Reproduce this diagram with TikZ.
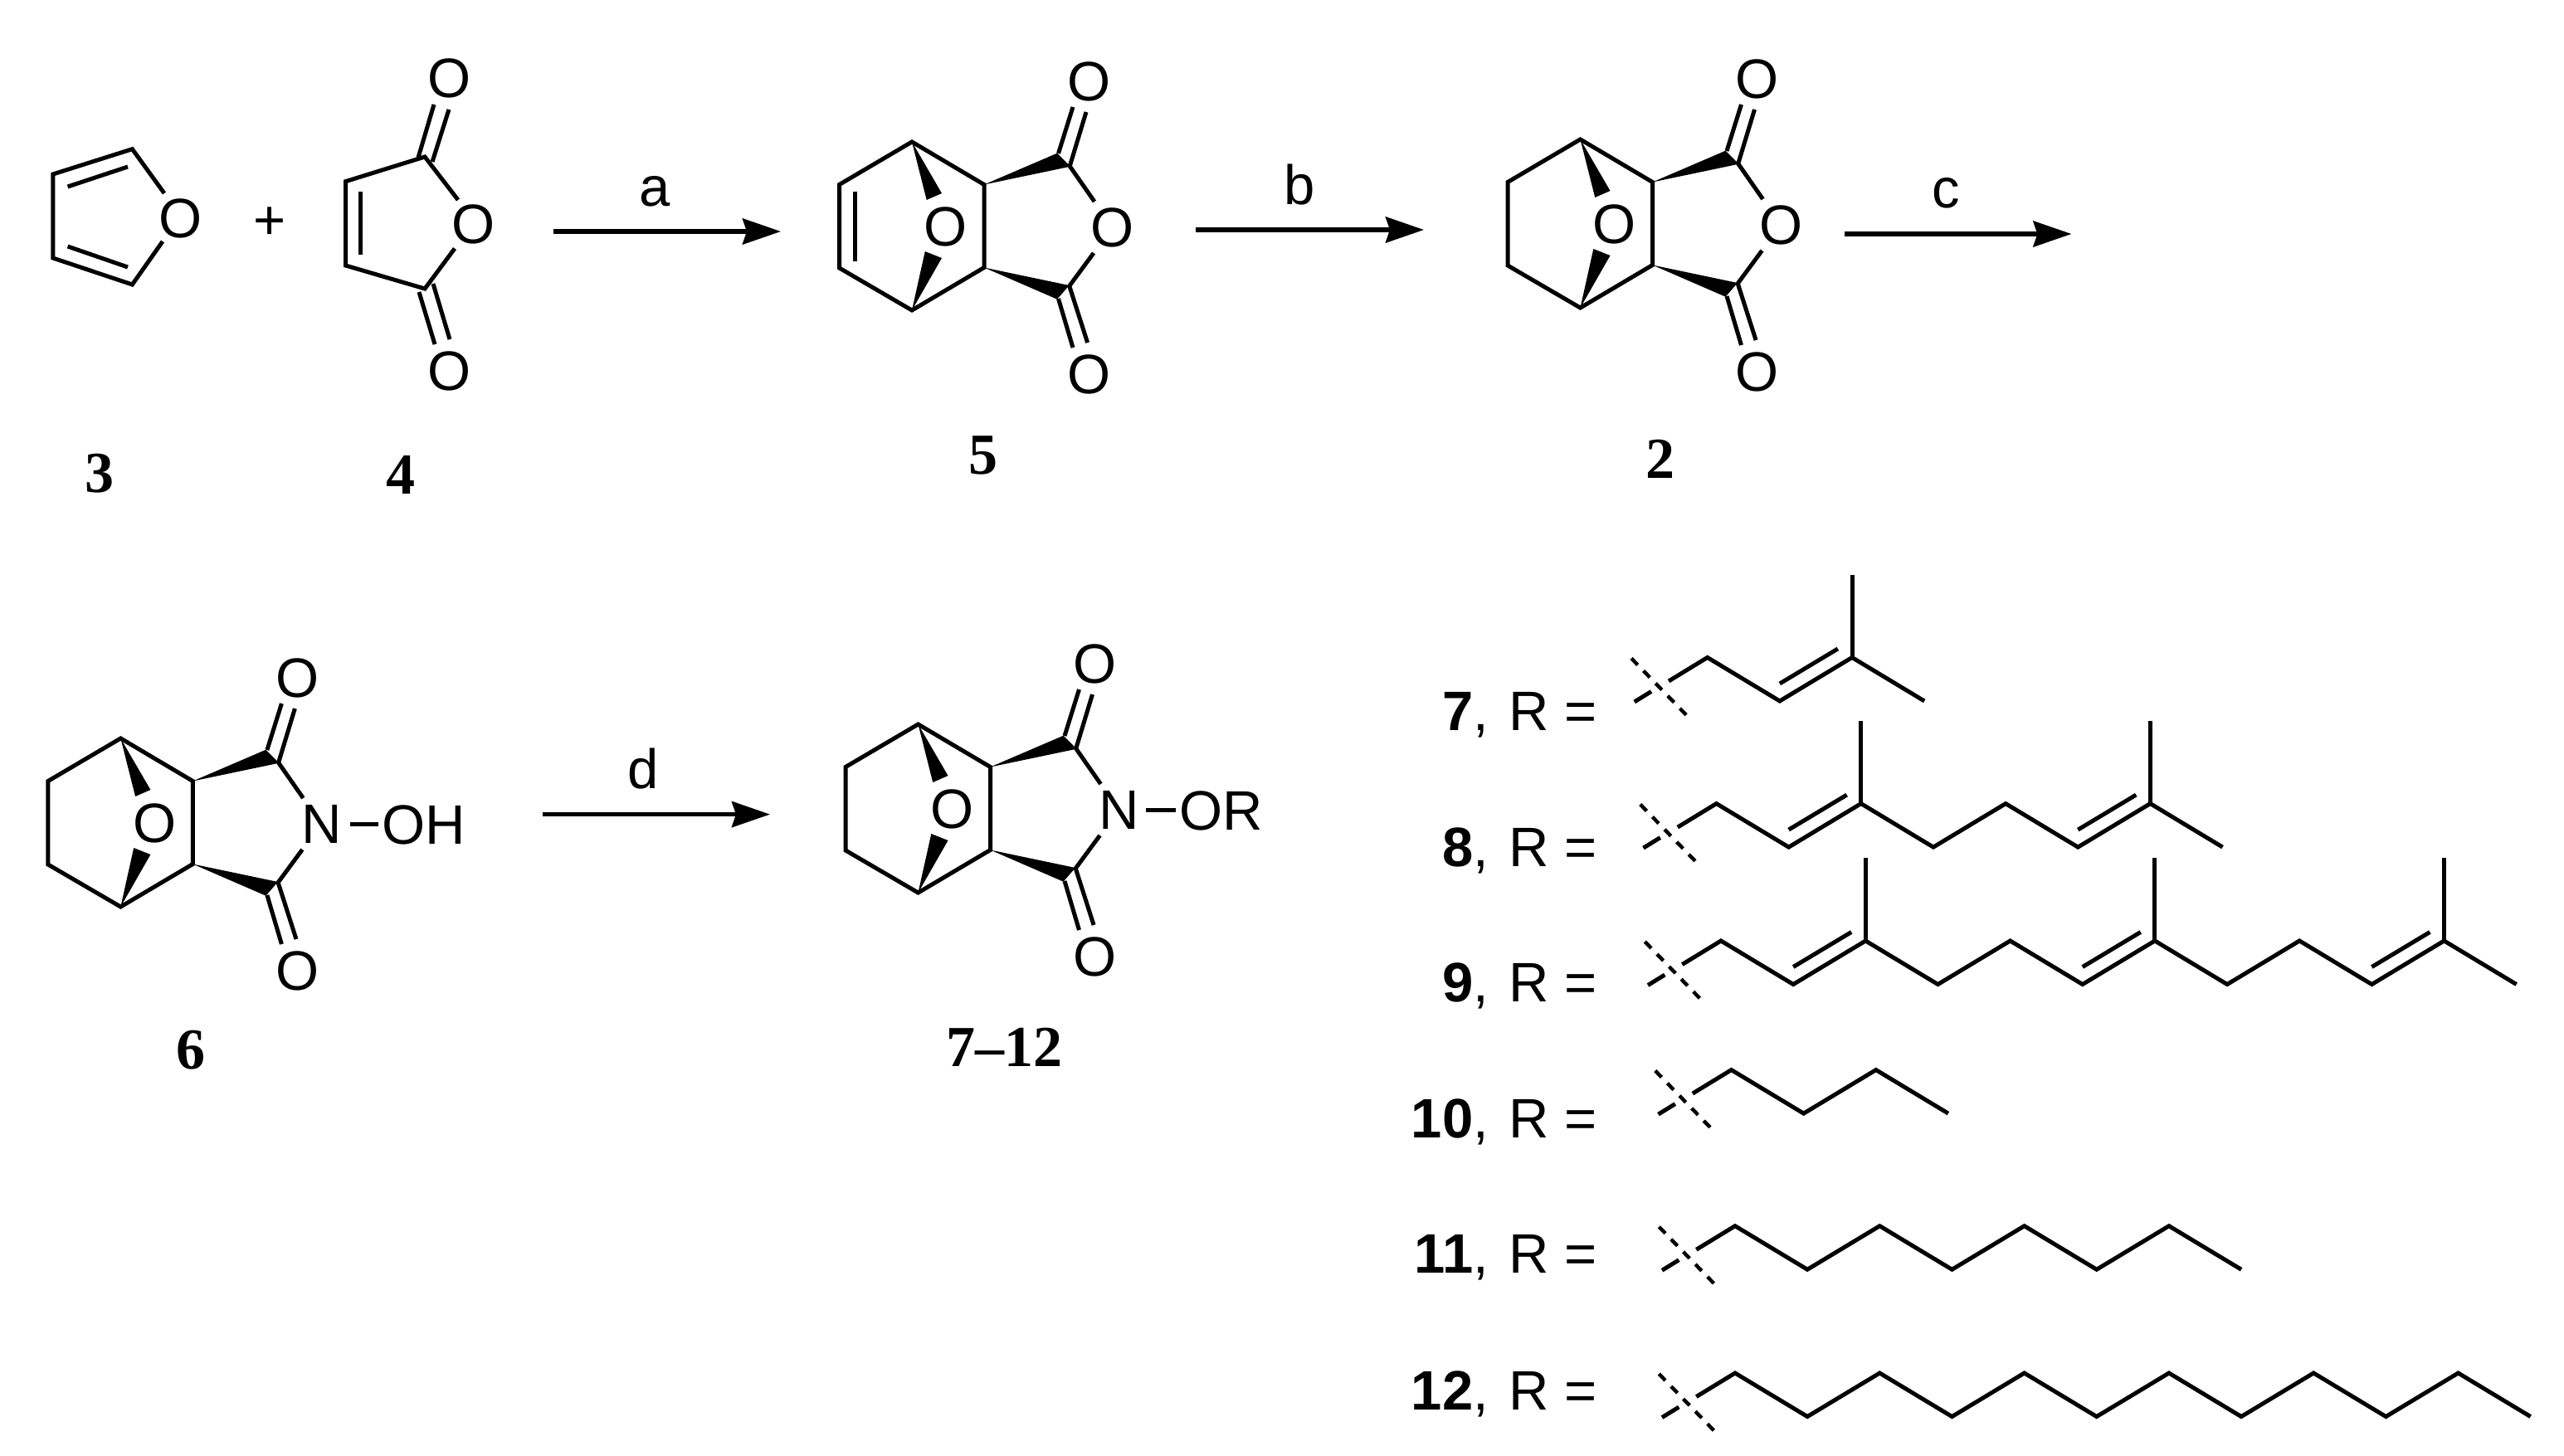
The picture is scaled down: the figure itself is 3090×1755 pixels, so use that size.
\documentclass[tikz,border=0pt]{standalone}
\usepackage{fontspec}
\setmainfont{Liberation Sans}
\newfontfamily\lblfont{Liberation Serif}
\usetikzlibrary{arrows.meta}
\tikzset{
  bond/.style={line width=5pt,line cap=butt,line join=miter,draw=black},
  cutline/.style={line width=4.4pt,dash pattern=on 11pt off 10pt,draw=black},
  wedge/.style={fill=black,draw=none},
  rxn/.style={line width=5.5pt,draw=black,-{Stealth[length=46pt,width=31pt,inset=5pt]}},
  atom/.style={inner sep=0pt,anchor=base,font=\fontsize{67}{67}\selectfont},
  cond/.style={inner sep=0pt,anchor=base,font=\fontsize{67}{67}\selectfont},
  cmpd/.style={inner sep=0pt,anchor=base,font=\fontsize{70}{70}\selectfont\lblfont\bfseries},
  rlabel/.style={inner sep=0pt,anchor=base east,font=\fontsize{67}{67}\selectfont},
}
% #1 prefix, #2 x, #3 y (bridge top), #4 ring heteroatom
\newcommand{\bicyclic}[4]{%
\begin{scope}[shift={(#2,#3)}]
  \draw[bond] (-87.5,51.5) -- (0,0) -- (87,51.5) -- (87,151.5) -- (0,203) -- (-87.5,152) -- cycle;
  \fill[wedge] (0,0) -- (17.7,70) -- (36,62) -- cycle;
  \fill[wedge] (0,203) -- (15.8,132) -- (36,140) -- cycle;
  \fill[wedge] (87,51.5) -- (175,13.7) -- (191,29.7) -- cycle;
  \fill[wedge] (87,151.5) -- (175,189.7) -- (189.5,173) -- cycle;
  \draw[bond] (176.5,14) -- (194,-42);
  \draw[bond] (190,30) -- (210,-36);
  \draw[bond] (176.5,189) -- (194,248);
  \draw[bond] (189.5,173) -- (211.6,242);
  \draw[bond] (190,29) -- (220,72);
  \draw[bond] (189.5,174) -- (219,134);
  \node[atom] (#1-bridge) at (41,125) {O};
  \node[atom] (#1-top) at (213.5,-49.6) {O};
  \node[atom] (#1-bottom) at (213.5,303) {O};
  \node[atom] (#1-het) at (242,126.5) {#4};
\end{scope}}
% #1 x, #2 y (first peak), #3 number of zigzag steps
\newcommand{\rchain}[3]{%
\begin{scope}[shift={(#1,#2)}]
  \draw[cutline] (-91.7,1) -- (-19,76);
  \draw[bond] (-88,53.5) -- (-67.7,41);
  \draw[bond] (-46.7,28.5) -- (0,0) foreach \i in {1,...,#3} { -- ({87.15*\i},{52.5*mod(\i,2)}) };
\end{scope}}
% #1 x, #2 y (first peak), #3 index of the methyl-bearing peak
\newcommand{\methyl}[3]{%
\begin{scope}[shift={(#1,#2)}]
  \draw[bond] ({87.15*#3},0) -- ({87.15*#3},-100);
  \draw[bond] ({87.15*(#3-1)},31.5) -- ({87.15*(#3-1)+70},-10.5);
\end{scope}}
\begin{document}
\begin{tikzpicture}[x=1pt,y=-1pt]
\useasboundingbox (0,0) rectangle (3090,1755);
\fill[white] (0,0) rectangle (3090,1755);

% furan 3
\draw[bond] (198,233) -- (159.4,179.7) -- (63.8,210) -- (63.8,311) -- (159.4,343) -- (196,291);
\draw[bond] (81.6,225) -- (154,201);
\draw[bond] (81.6,297) -- (154,322);
\node[atom] (furanO) at (218,286) {O};
\node[atom] (plus) at (325,288) {+};

% maleic anhydride 4
\draw[bond] (552,241) -- (512,189) -- (416.5,218.7) -- (416.5,320) -- (512,348) -- (548,299.5);
\draw[bond] (434,231) -- (434,307);
\draw[bond] (504,190) -- (523,126);
\draw[bond] (521,195) -- (541,132);
\draw[bond] (505,352) -- (524,415);
\draw[bond] (522,342) -- (542,409);
\node[atom] (maleicO) at (571,294) {O};
\node[atom] (maleicT) at (542,117.5) {O};
\node[atom] (maleicB) at (542,470) {O};

% 5, 2, 6, 7-12 core
\bicyclic{five}{1099}{171}{O}
\draw[bond] (1030,230.6) -- (1030,315);
\bicyclic{two}{1904.5}{168}{O}
\bicyclic{six}{145.4}{890}{N}
\bicyclic{seven}{1106.5}{873}{N}

% N substituents
\node[atom,anchor=base west] (oh) at (460,1017) {OH};
\draw[bond,shorten <=10pt,shorten >=4pt] (six-het.east) -- (oh.west |- six-het.east);
\node[atom,anchor=base west] (or) at (1421,1000) {OR};
\draw[bond,shorten <=8pt,shorten >=4pt] (seven-het.east) -- (or.west |- seven-het.east);

% reaction arrows
\coordinate (a1) at (666.5,279); \coordinate (a2) at (941,279);
\coordinate (b1) at (1441,277); \coordinate (b2) at (1716,277);
\coordinate (c1) at (2222.8,282); \coordinate (c2) at (2496.4,282);
\coordinate (d1) at (653.7,981.6); \coordinate (d2) at (928,981.6);
\draw[rxn] (a1) -- (a2);
\draw[rxn] (b1) -- (b2);
\draw[rxn] (c1) -- (c2);
\draw[rxn] (d1) -- (d2);
\node[cond] (la) at (789.5,248.6) {a};
\node[cond] (lb) at (1565.7,246.7) {b};
\node[cond] (lc) at (2345.7,250.7) {c};
\node[cond] (ld) at (775,950) {d};

% compound numbers
\node[cmpd] (n3) at (120,593) {3};
\node[cmpd] (n4) at (483.4,595) {4};
\node[cmpd] (n5) at (1185,571) {5};
\node[cmpd] (n2) at (2000.9,576.8) {2};
\node[cmpd] (n6) at (229.6,1288) {6};
\node[cmpd] (n712) at (1210,1285) {7–12};

% R definitions
\node[rlabel] (r7) at (1925,880) {\textbf{7},\hspace{6pt} R =};
\node[rlabel] (r8) at (1925,1044) {\textbf{8},\hspace{6pt} R =};
\node[rlabel] (r9) at (1925,1207.5) {\textbf{9},\hspace{6pt} R =};
\node[rlabel] (r10) at (1925,1371) {\textbf{10},\hspace{6pt} R =};
\node[rlabel] (r11) at (1925,1534.6) {\textbf{11},\hspace{6pt} R =};
\node[rlabel] (r12) at (1925,1699.4) {\textbf{12},\hspace{6pt} R =};

\rchain{2057.7}{792.5}{3}
\methyl{2057.7}{792.5}{2}
\rchain{2068.5}{968.6}{7}
\methyl{2068.5}{968.6}{2}
\methyl{2068.5}{968.6}{6}
\rchain{2074}{1134}{11}
\methyl{2074}{1134}{2}
\methyl{2074}{1134}{6}
\methyl{2074}{1134}{10}
\rchain{2086.5}{1289.6}{3}
\rchain{2091}{1477.7}{7}
\rchain{2091}{1655}{11}
\end{tikzpicture}
\end{document}
